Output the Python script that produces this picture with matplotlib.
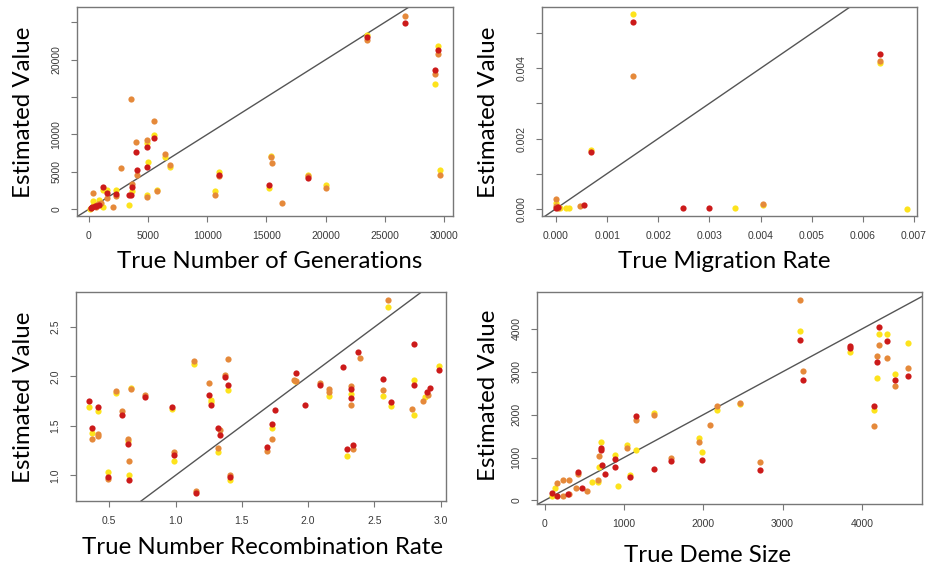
import numpy as np
import matplotlib
matplotlib.use("Agg")
import matplotlib.pyplot as plt

# colours of the three estimators
c_red = "#cc1a1a"
c_orange = "#e5893a"
c_yellow = "#fde31c"

# --- number of generations ---
gen_red_x = [26700, 23500, 29500, 29200, 5500, 4900, 4000, 4950, 4100, 11000, 15200, 18500,
             3630, 3400, 3550, 2300, 1570, 1235, 300, 600, 900, 150, 500]
gen_red_y = [24900, 23000, 21300, 18600, 9490, 8290, 7660, 5610, 5250, 4600, 3300, 4200,
             2940, 1870, 1870, 2000, 2140, 3020, 300, 500, 600, 150, 400]
gen_orange_x = [26700, 23500, 29500, 29200, 29700, 3600, 5500, 4900, 4000, 6450, 6900, 4100,
                2700, 3630, 4900, 5740, 10700, 11000, 15400, 15500, 16300, 18500, 20000,
                2300, 1570, 340, 2030, 600, 800, 200, 1000]
gen_orange_y = [25800, 22600, 20800, 18100, 4600, 14800, 11800, 9260, 9040, 7390, 5920, 4540,
                5480, 3380, 1690, 2500, 1900, 4400, 6950, 6150, 800, 4500, 2900,
                1800, 1470, 2140, 270, 300, 700, 200, 900]
gen_yellow_x = [23500, 29500, 29200, 29700, 5500, 4900, 6450, 6900, 4980, 3630, 3400, 4900,
                5740, 10700, 11000, 15400, 15200, 18500, 20000, 2300, 1570, 1235, 390, 895,
                1180, 100, 400]
gen_yellow_y = [23300, 21900, 16800, 5200, 9930, 8820, 7030, 5700, 6360, 2490, 575, 1910,
                2580, 2400, 5000, 7100, 2800, 4600, 3300, 2600, 2580, 2580, 1150, 1240,
                270, 100, 500]

# --- migration rate ---
mig_red_x = [0.00151, 0.00633, 0.00069, 0.00055, 0.00248, 0.0030, 0.00004, 0.0]
mig_red_y = [0.00532, 0.00441, 0.00162, 0.00010, 0.00003, 0.00003, 0.00004, 0.00002]
mig_orange_x = [0.00151, 0.00633, 0.00046, 0.00404, 0.0, 0.0, 0.00003]
mig_orange_y = [0.00378, 0.00421, 0.00007, 0.00013, 0.00027, 0.00008, 0.00002]
mig_yellow_x = [0.00151, 0.00633, 0.00069, 0.0035, 0.00404, 0.00687, 0.0002, 0.00025, 0.0, 0.00008]
mig_yellow_y = [0.00554, 0.00415, 0.00168, 0.00001, 0.00009, 0.0, 0.00003, 0.00002, 0.00015, 0.00003]

# --- recombination rate ---
rec_red_x = [0.349, 0.415, 0.369, 0.593, 0.772, 0.639, 0.651, 0.488, 0.971, 0.99, 1.154, 1.25,
             1.265, 1.371, 1.398, 1.323, 1.335, 1.411, 2.80, 2.99, 2.375, 2.266, 1.909, 2.09,
             2.322, 2.322, 1.977, 2.568, 2.626, 2.80, 2.895, 2.92, 1.751, 1.728, 1.688, 2.292,
             2.342]
rec_red_y = [1.750, 1.689, 1.479, 1.608, 1.790, 1.314, 0.955, 0.980, 1.689, 1.203, 0.821, 1.817,
             1.715, 1.996, 1.912, 1.479, 1.405, 0.980, 2.324, 2.067, 2.250, 2.091, 2.037, 1.912,
             1.878, 1.783, 1.710, 1.979, 1.743, 1.912, 1.844, 1.888, 1.659, 1.520, 1.284, 1.263,
             1.310]
rec_orange_x = [0.369, 0.415, 0.415, 0.551, 0.664, 0.593, 0.772, 0.639, 0.651, 0.488, 0.99,
                1.141, 1.154, 1.25, 1.371, 1.398, 1.335, 1.323, 1.411, 2.601, 2.392, 1.89,
                1.91, 2.09, 2.158, 2.158, 2.322, 2.322, 2.568, 2.78, 2.87, 2.905, 1.728, 1.688,
                2.342]
rec_orange_y = [1.368, 1.419, 1.399, 1.851, 1.871, 1.652, 1.811, 1.371, 1.148, 0.960, 1.236,
                2.155, 0.844, 1.935, 2.013, 2.175, 1.456, 1.277, 1.000, 2.774, 2.190, 1.963,
                1.958, 1.938, 1.878, 1.844, 1.905, 1.716, 1.861, 1.669, 1.753, 1.811, 1.368, 1.249,
                1.270]
rec_yellow_x = [0.349, 0.415, 0.369, 0.551, 0.664, 0.639, 0.651, 0.488, 0.971, 0.99, 1.141,
                1.265, 1.265, 1.398, 1.323, 1.411, 2.601, 2.99, 1.90, 2.158, 2.322, 2.568,
                2.626, 2.80, 2.80, 2.88, 1.728, 2.292]
rec_yellow_y = [1.692, 1.649, 1.432, 1.831, 1.888, 1.345, 1.006, 1.033, 1.669, 1.142, 2.131,
                1.760, 1.740, 1.860, 1.236, 0.950, 2.706, 2.108, 1.953, 1.804, 1.827, 1.800,
                1.702, 1.963, 1.614, 1.790, 1.479, 1.196]

# --- deme size ---
deme_red_x = [1983, 1596, 1381, 1153, 1070, 888, 888, 707, 707, 724, 762, 425, 476, 290, 160,
              88, 2720, 3217, 3259, 3844, 3844, 4215, 4185, 4311, 4412, 4152, 4581]
deme_red_y = [933, 927, 733, 1960, 537, 973, 780, 1223, 1167, 833, 623, 663, 290, 140, 110,
              172, 709, 3734, 2800, 3610, 3564, 4054, 3237, 3727, 2817, 2203, 2910]
deme_orange_x = [2173, 2088, 1941, 1596, 1381, 1153, 1044, 686, 678, 425, 539, 396, 312, 236,
                 160, 312, 236, 2459, 2720, 3217, 3259, 4215, 4185, 4311, 4412, 4152, 4581]
deme_orange_y = [2210, 1767, 1363, 990, 2000, 1867, 1223, 1027, 467, 623, 210, 290, 483, 483,
                 406, 156, 110, 2280, 887, 4667, 3011, 3627, 3377, 3314, 2670, 1743, 3080]
deme_yellow_x = [2173, 1941, 1983, 1381, 1153, 1044, 1070, 922, 888, 707, 682, 673, 594, 130,
                 88, 2459, 3217, 3844, 4215, 4185, 4311, 4412, 4152, 4581]
deme_yellow_y = [2100, 1456, 1120, 2040, 1167, 1300, 583, 343, 1067, 1354, 780, 420, 420, 290,
                 110, 2240, 3960, 3470, 3883, 2864, 3874, 2950, 2100, 3664]

W, H = 930, 569
fig = plt.figure(figsize=(W / 100, H / 100), dpi=100)


def px_axes(x0, y0, x1, y1):
    return fig.add_axes([x0 / W, 1 - y1 / H, (x1 - x0) / W, (y1 - y0) / H])


def panel(ax, series, xlim, ylim, xticks, xlabels, yticks, ylabels):
    for xs, ys, col in series:
        ax.scatter(xs, ys, s=20, color=col, linewidths=0, zorder=3)
    lo = min(xlim[0], ylim[0])
    hi = max(xlim[1], ylim[1])
    ax.plot([lo, hi], [lo, hi], color="#555555", lw=1.0, zorder=2)
    ax.set_xlim(xlim)
    ax.set_ylim(ylim)
    ax.set_xticks(xticks)
    ax.set_xticklabels(xlabels)
    ax.set_yticks(yticks)
    ax.set_yticklabels(ylabels, rotation=90, va="center")
    for sp in ax.spines.values():
        sp.set_color("#777777")
        sp.set_linewidth(1.0)
    ax.tick_params(direction="out", length=4.3, width=0.8, color="#777777",
                   labelsize=7.5, labelcolor="#3a3a3a")
    ax.tick_params(axis="x", pad=6.5)
    ax.tick_params(axis="y", pad=7)
    for lab in ax.get_xticklabels() + ax.get_yticklabels():
        lab.set_fontfamily("Liberation Sans")


def series(r_x, r_y, o_x, o_y, y_x, y_y):
    return [(y_x, y_y, c_yellow), (o_x, o_y, c_orange), (r_x, r_y, c_red)]


ax1 = px_axes(77, 7, 453, 216)
panel(ax1, series(gen_red_x, gen_red_y, gen_orange_x, gen_orange_y, gen_yellow_x, gen_yellow_y),
      (-990, 30760), (-900, 27050),
      range(0, 30001, 5000), ["0", "5000", "10000", "15000", "20000", "25000", "30000"],
      range(0, 25001, 5000), ["0", "5000", "10000", "", "20000", ""])

ax2 = px_axes(542, 7, 917, 216)
panel(ax2, series(mig_red_x, mig_red_y, mig_orange_x, mig_orange_y, mig_yellow_x, mig_yellow_y),
      (-0.000274, 0.00706), (-0.00021, 0.00575),
      np.arange(0, 0.0071, 0.001), ["%.3f" % v for v in np.arange(0, 0.0071, 0.001)],
      np.arange(0, 0.0051, 0.001), ["0.000", "", "0.002", "", "0.004", ""])

ax3 = px_axes(76, 292, 446, 501)
panel(ax3, series(rec_red_x, rec_red_y, rec_orange_x, rec_orange_y, rec_yellow_x, rec_yellow_y),
      (0.249, 3.04), (0.74, 2.855),
      np.arange(0.5, 3.01, 0.5), ["0.5", "1.0", "1.5", "2.0", "2.5", "3.0"],
      [1.0, 1.5, 2.0, 2.5], ["1.0", "1.5", "2.0", "2.5"])

ax4 = px_axes(537, 292, 922, 504)
panel(ax4, series(deme_red_x, deme_red_y, deme_orange_x, deme_orange_y, deme_yellow_x, deme_yellow_y),
      (-97, 4758), (-84, 4863),
      range(0, 4001, 1000), ["0", "1000", "2000", "3000", "4000"],
      range(0, 4001, 1000), ["0", "1000", "2000", "3000", "4000"])

lab_kw = dict(fontsize=17.3, family="Lato", color="black")
fig.text(23 / W, 1 - 112 / H, "Estimated Value", rotation=90, ha="center", va="center", **lab_kw)
fig.text(488 / W, 1 - 112 / H, "Estimated Value", rotation=90, ha="center", va="center", **lab_kw)
fig.text(23 / W, 1 - 397 / H, "Estimated Value", rotation=90, ha="center", va="center", **lab_kw)
fig.text(488 / W, 1 - 395 / H, "Estimated Value", rotation=90, ha="center", va="center", **lab_kw)
fig.text(270 / W, 1 - 262 / H, "True Number of Generations", ha="center", va="center", **lab_kw)
fig.text(724 / W, 1 - 262 / H, "True Migration Rate", ha="center", va="center", **lab_kw)
fig.text(263 / W, 1 - 547 / H, "True Number Recombination Rate", ha="center", va="center", **lab_kw)
fig.text(708 / W, 1 - 556 / H, "True Deme Size", ha="center", va="center", **lab_kw)

fig.savefig("out.png", dpi=100)
